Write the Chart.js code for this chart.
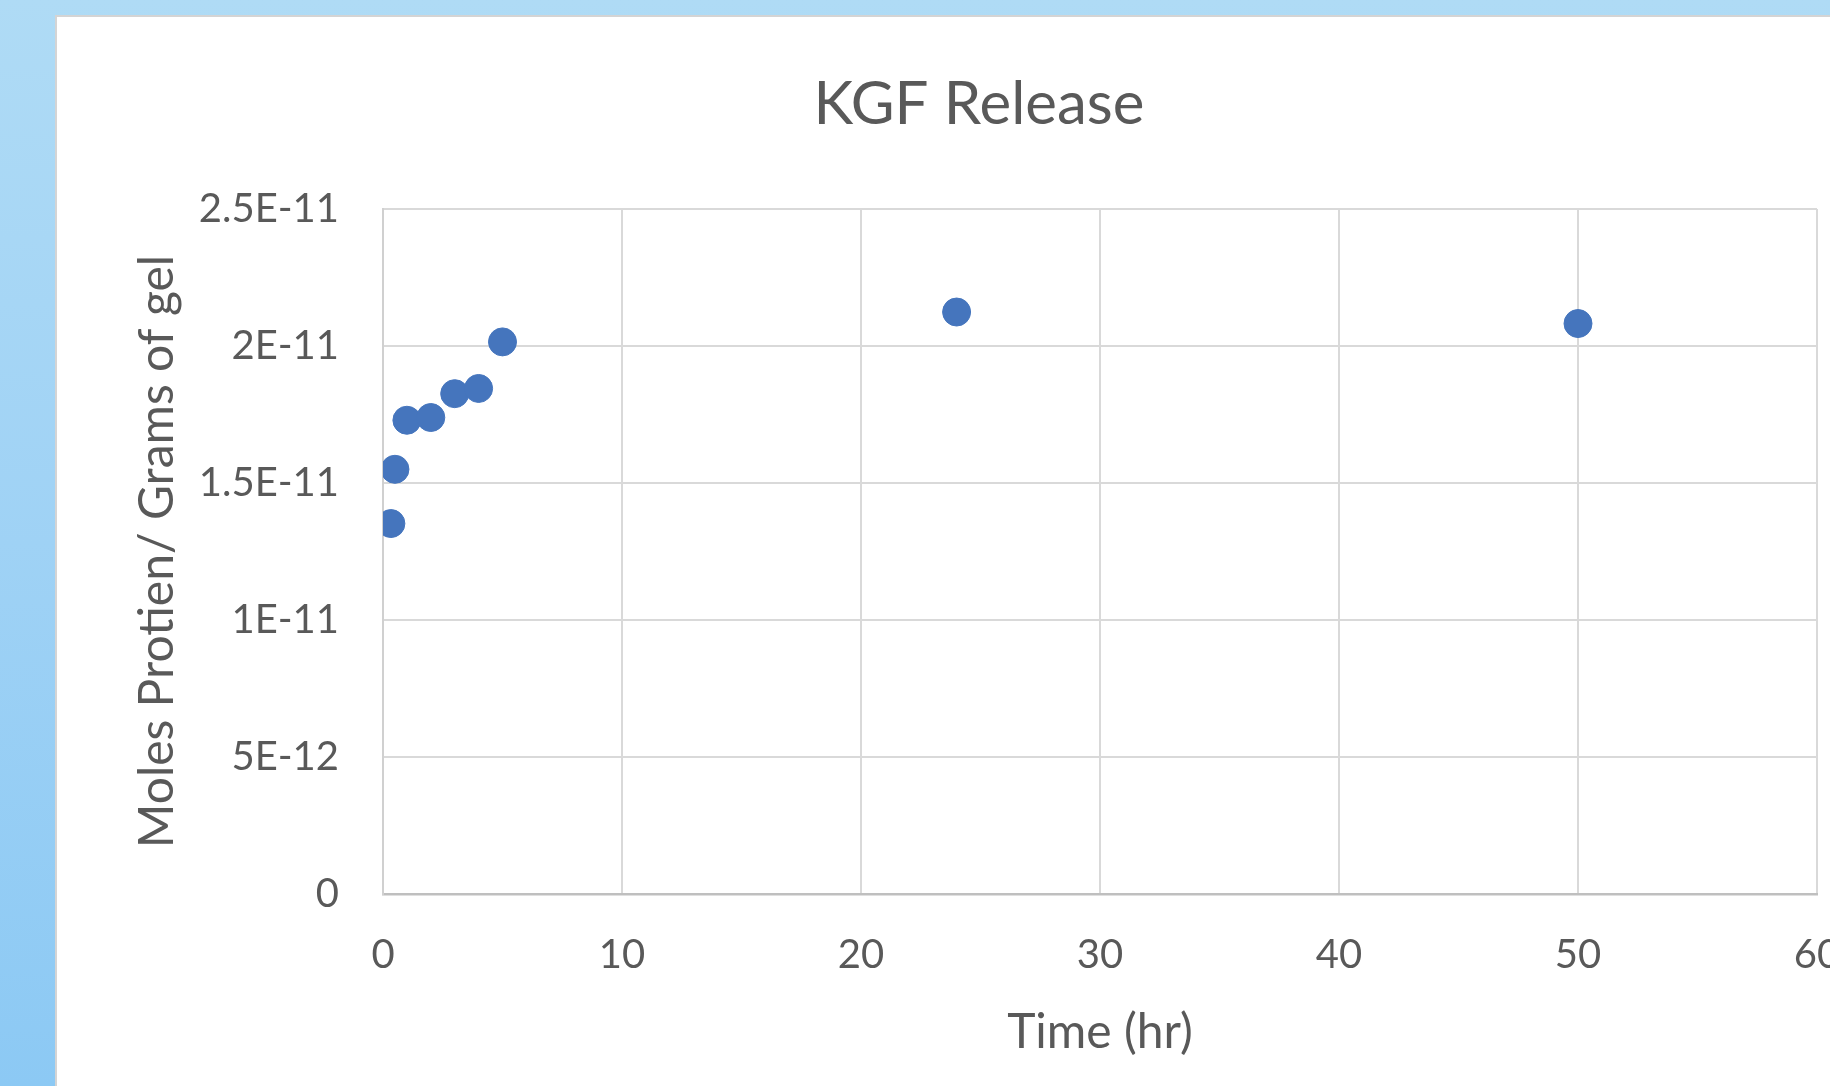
<!DOCTYPE html>
<html>
<head>
<meta charset="utf-8">
<script src="https://cdn.jsdelivr.net/npm/chart.js@4/dist/chart.umd.min.js"></script>
<style>
  html, body { margin: 0; padding: 0; width: 1830px; height: 1086px; overflow: hidden; }
  body { background: linear-gradient(to bottom, #afdbf5 0%, #9fd2f5 50%, #8cc9f4 100%); position: relative; }
  #card {
    position: absolute; left: 55px; top: 15px; width: 1900px; height: 1100px;
    background: #fff; border-top: 2px solid #d4d4d4; border-left: 2px solid #d4d4d4;
  }
  #grafica { position: absolute; left: 0; top: 0; }
</style>
</head>
<body>
<div id="card"><canvas id="grafica" width="1928" height="1069"></canvas></div>
<script>
const timeHr = [0.33, 0.5, 1, 2, 3, 4, 5, 24, 50];
const molesPerGram = [1.352e-11, 1.55e-11, 1.729e-11, 1.739e-11, 1.826e-11, 1.845e-11, 2.015e-11, 2.124e-11, 2.082e-11];

const xTickValues = [0, 10, 20, 30, 40, 50, 60];
const yTickValues = [0, 5e-12, 1e-11, 1.5e-11, 2e-11, 2.5e-11];
const yTickLabels = ['0', '5E-12', '1E-11', '1.5E-11', '2E-11', '2.5E-11'];

const textGrey = '#595959';
const dotBlue = '#4575bd';

const points = timeHr.map((t, i) => ({ x: t, y: molesPerGram[i] }));

function drawChart() {
  const grafica = document.getElementById('grafica');
  new Chart(grafica, {
    type: 'scatter',
    data: {
      datasets: [{
        label: 'KGF',
        data: points,
        backgroundColor: dotBlue,
        borderColor: dotBlue,
        borderWidth: 1,
        pointRadius: 14,
        pointHoverRadius: 14
      }]
    },
    options: {
      responsive: false,
      animation: false,
      layout: { padding: { left: 0, top: 0, right: 84, bottom: 0 } },
      scales: {
        x: {
          type: 'linear',
          min: 0,
          max: 60,
          afterBuildTicks: s => { s.ticks = xTickValues.map(v => ({ value: v })); },
          afterFit: s => { s.height = 192; },
          ticks: {
            color: textGrey,
            padding: 37,
            font: { family: 'Lato', size: 40 }
          },
          grid: { color: '#d9d9d9', lineWidth: 2, drawTicks: false },
          border: { color: '#bfbfbf', width: 2.5 },
          title: {
            display: true,
            text: 'Time (hr)',
            color: textGrey,
            font: { family: 'Lato', size: 48 },
            padding: { top: 0, bottom: 25 }
          }
        },
        y: {
          type: 'linear',
          min: 0,
          max: 2.5e-11,
          afterBuildTicks: s => { s.ticks = yTickValues.map(v => ({ value: v })); },
          afterFit: s => { s.width = 326; },
          ticks: {
            color: textGrey,
            padding: 44,
            font: { family: 'Lato', size: 40 },
            callback: (v, i) => yTickLabels[i]
          },
          grid: { color: '#d9d9d9', lineWidth: 2, drawTicks: false },
          border: { color: '#d0d0d0', width: 2 },
          title: {
            display: true,
            text: 'Moles Protien/ Grams of gel',
            color: textGrey,
            font: { family: 'Lato', size: 48 },
            padding: { top: 72, bottom: 0 }
          }
        },
        // empty right-hand box: keeps the plot edge where the reference has it
        spacer: {
          type: 'linear',
          position: 'right',
          min: 0,
          max: 1,
          afterFit: s => { s.width = 84; },
          ticks: { display: false },
          grid: { display: false, drawOnChartArea: false },
          border: { display: false }
        }
      },
      plugins: {
        legend: { display: false },
        tooltip: { enabled: false },
        title: {
          display: true,
          text: 'KGF Release',
          color: textGrey,
          font: { family: 'Lato', size: 60, weight: 'normal' },
          padding: { top: 52, bottom: 68 }
        }
      }
    }
  });
}

Promise.all([
  document.fonts.load('60px Lato'),
  document.fonts.load('40px Lato')
]).then(drawChart, drawChart);
</script>
</body>
</html>
